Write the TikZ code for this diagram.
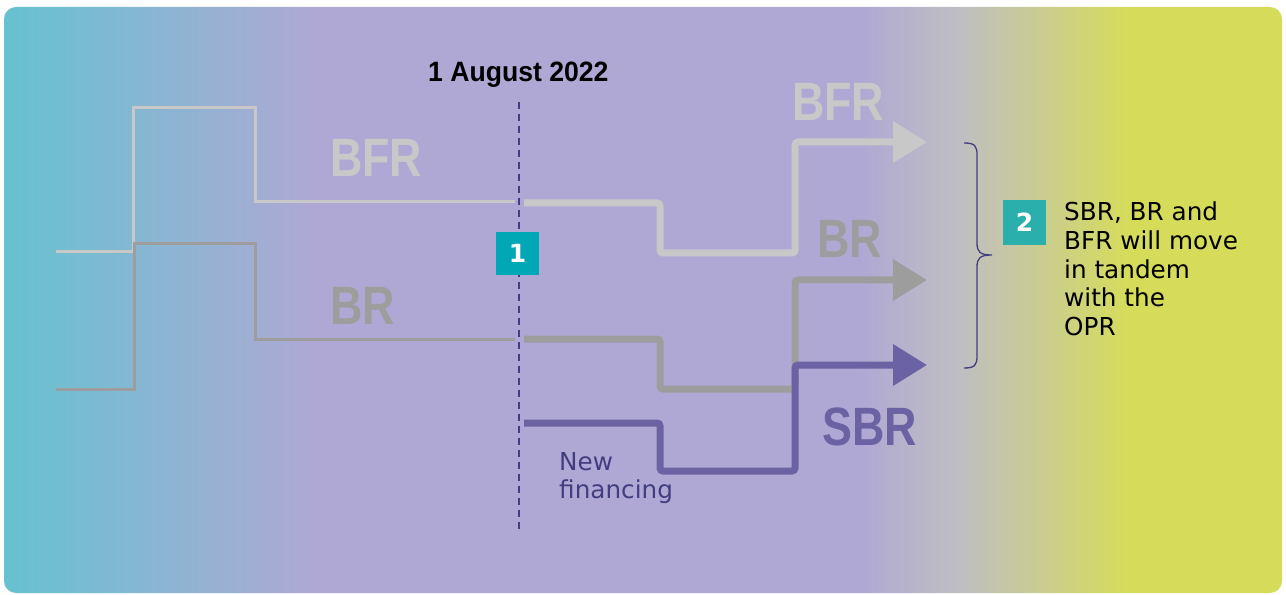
\documentclass[tikz,border=0pt]{standalone}
\usepackage{fontspec}
\newfontfamily\ratefont{Liberation Sans}[FakeStretch=0.83]
\newfontfamily\datefont{Liberation Sans}[FakeStretch=0.95]
\newfontfamily\notefont{DejaVu Sans}
\usetikzlibrary{arrows.meta,positioning}
\definecolor{bgteal}{HTML}{66C2D0}
\definecolor{bglav}{HTML}{B0A8D4}
\definecolor{bggrey}{HTML}{BFBEC2}
\definecolor{bgyel}{HTML}{D6DC5A}
\definecolor{bfrgrey}{HTML}{C8C8C8}
\definecolor{brgrey}{HTML}{9D9D9D}
\definecolor{sbrpurple}{HTML}{6A62A3}
\definecolor{navy}{HTML}{423D80}
\definecolor{tealbox}{HTML}{00A8B5}
\definecolor{tealbox2}{HTML}{2BAFAC}
\pgfdeclarehorizontalshading{bgshade}{100bp}{%
  color(0bp)=(bgteal); color(25bp)=(bgteal);
  color(37.4bp)=(bglav); color(58.5bp)=(bglav);
  color(62.4bp)=(bggrey); color(69bp)=(bgyel);
  color(100bp)=(bgyel)}
\tikzset{
  thinline/.style={%
    line width=3bp,
  },
  thickline/.style={%
    line width=7bp,rounded corners=3bp,
    -{Triangle[length=34bp,width=40bp]},
  },
  ratelabel/.style={%
    font=\ratefont\bfseries\fontsize{54bp}{60bp}\selectfont,
    inner sep=0pt,anchor=base west,
  },
  numbox/.style={%
    fill=#1,text=white,
    minimum width=43bp,minimum height=43bp,
    inner sep=0pt,
    font=\notefont\bfseries\fontsize{25bp}{30bp}\selectfont,
  },
  notetext/.style={%
    align=left,inner sep=0pt,anchor=base west,
    font=\notefont\fontsize{24.7bp}{28.6bp}\selectfont,
  }
}
\begin{document}
\begin{tikzpicture}[x=1bp,y=-1bp,line cap=butt,line join=miter]
\useasboundingbox (0,0) rectangle (1286,595);
\shade[shading=bgshade,rounded corners=12bp] (4,7) rectangle (1282,593);
% before the cut
\draw[thinline,bfrgrey] (56,252) -| (133,108) -| (255,202) -- (515,202);
\draw[thinline,brgrey] (56,389) -| (134,244) -| (255,339) -- (515,339);
% the cut
\coordinate (cuttop) at (519,102);
\coordinate (cutbot) at (519,533);
\draw[navy,line width=2.4bp,dash pattern=on 7bp off 5bp] (cuttop) -- (cutbot);
\node[font=\datefont\bfseries\fontsize{28bp}{32bp}\selectfont,inner sep=0pt,anchor=base west] (date) at (428,82) {1 August 2022};
\node[numbox=tealbox] (box1) at (517.5,253.5) {1};
% after the cut
\draw[thickline,bfrgrey] (524,203) -| (660,253) -| (795,142) -- (927,142);
\draw[thickline,brgrey] (524,339) -| (660,389) -| (795,280) -- (927,280);
\draw[thickline,sbrpurple] (524,423) -| (660,471) -| (795,365) -- (927,365);
% labels
\node[ratelabel,text=bfrgrey] (bfrold) at (330,177) {BFR};
\node[ratelabel,text=brgrey] (brold) at (330,325) {BR};
\node[ratelabel,text=bfrgrey] (bfrnew) at (792,121) {BFR};
\node[ratelabel,text=brgrey] (brnew) at (817,258) {BR};
\node[ratelabel,text=sbrpurple] (sbrnew) at (822,445) {SBR};
\node[notetext,text=navy] (newfin) at (559,498.6) {New\\financing};
% brace and note
\draw[navy,line width=1.3bp] (964,143) .. controls (975,143) and (977,146) .. (977,155)
  -- (977,243) .. controls (977,252) and (980,255) .. (992,255)
  .. controls (980,255) and (977,258) .. (977,267)
  -- (977,356) .. controls (977,365) and (975,368) .. (964,368);
\node[numbox=tealbox2,minimum height=45bp] (box2) at (1024.5,222.5) {2};
\node[notetext,text=black] (note) at (1064,335.4) {SBR, BR and\\BFR will move\\in tandem\\with the\\OPR};
\end{tikzpicture}
\end{document}
